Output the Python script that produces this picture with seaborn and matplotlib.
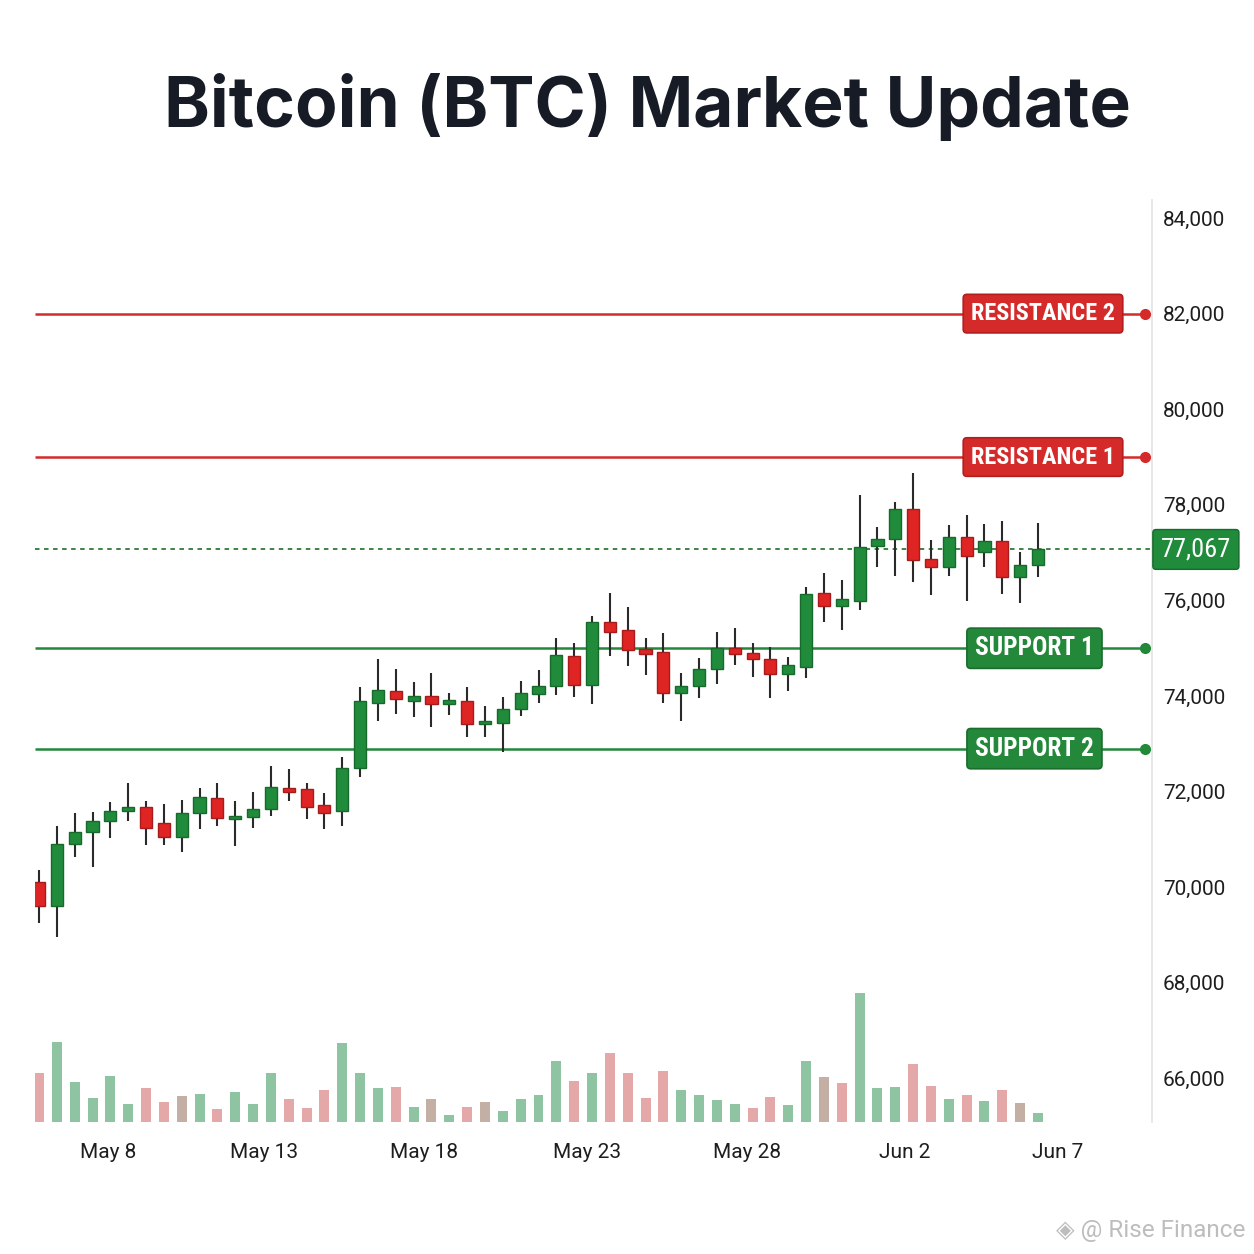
import pandas as pd
import matplotlib.pyplot as plt
import seaborn as sns

# 57 candles
opens = [70115, 69607, 70898, 71149, 71392, 71588, 71672, 71337, 71051, 71546,
         71873, 71438, 71475, 71636, 72069, 72048, 71714, 71588, 72488, 73847,
         74111, 73902, 74000, 73833, 73902, 73414, 73429, 73728, 74048, 74209,
         74843, 74230, 75548, 75381, 74990, 74927, 74069, 74216, 74558, 75004,
         74906, 74781, 74467, 74613, 76149, 75883, 75988, 77145, 77285, 77919,
         76860, 76705, 77333, 77006, 77249, 76496, 76734]
highs = [70360, 71287, 71559, 71580, 71776, 72174, 71810, 71741, 71825, 72069,
         72187, 71810, 71986, 72536, 72479, 72187, 71965, 72730, 74195, 74768,
         74565, 74299, 74488, 74069, 74195, 73797, 73986, 74314, 74544, 75220,
         75115, 75674, 76149, 75856, 75207, 75312, 74488, 74802, 75333, 75423,
         75103, 75019, 74822, 76287, 76580, 76427, 78205, 77542, 78065, 78659,
         77264, 77578, 77787, 77598, 77668, 77006, 77626]
lows = [69258, 68965, 70626, 70417, 71023, 71385, 70877, 70883, 70730, 71212,
        71287, 70869, 71245, 71490, 71810, 71427, 71212, 71287, 72299, 73477,
        73617, 73567, 73345, 73603, 73149, 73149, 72835, 73589, 73847, 74021,
        73986, 73833, 74843, 74628, 74440, 73847, 73477, 73952, 74245, 74649,
        74391, 73965, 74111, 74370, 75555, 75381, 75799, 76693, 76517, 76391,
        76107, 76511, 75994, 76705, 76134, 75952, 76483]
closes = [69607, 70898, 71149, 71392, 71588, 71684, 71239, 71057, 71559, 71881,
          71442, 71490, 71643, 72103, 71986, 71684, 71546, 72488, 73902, 74119,
          73937, 74000, 73833, 73910, 73414, 73484, 73735, 74063, 74216, 74852,
          74230, 75548, 75345, 74963, 74885, 74069, 74216, 74565, 75004, 74885,
          74781, 74467, 74642, 76140, 75883, 76023, 77124, 77285, 77919, 76845,
          76705, 77333, 76929, 77249, 76496, 76741, 77067]
volumes = [49.3, 80.0, 39.7, 23.7, 45.7, 18.3, 34.3, 20.0, 25.7, 28.3,
           12.7, 29.7, 18.0, 48.7, 23.0, 13.7, 31.7, 79.3, 49.0, 34.3,
           35.0, 15.3, 22.7, 7.0, 15.3, 20.3, 11.0, 23.0, 26.7, 60.7,
           40.7, 48.7, 69.0, 48.7, 24.3, 50.7, 31.7, 26.7, 22.0, 18.0,
           13.7, 25.3, 16.7, 60.7, 44.7, 39.0, 129.0, 34.3, 34.7, 57.7,
           36.0, 22.7, 27.0, 20.7, 32.0, 18.7, 8.7]
vol_side = ['down', 'up', 'up', 'up', 'up', 'up', 'down', 'down', 'flat', 'up',
            'down', 'up', 'up', 'up', 'down', 'down', 'down', 'up', 'up', 'up',
            'down', 'up', 'flat', 'up', 'down', 'flat', 'up', 'up', 'up', 'up',
            'down', 'up', 'down', 'down', 'down', 'down', 'up', 'up', 'up', 'up',
            'down', 'down', 'up', 'up', 'flat', 'down', 'up', 'up', 'up', 'down',
            'down', 'up', 'down', 'up', 'down', 'flat', 'up']

date_labels = ['May 8', 'May 13', 'May 18', 'May 23', 'May 28', 'Jun 2', 'Jun 7']
date_ticks = [3.9, 12.6, 21.6, 30.7, 39.7, 48.5, 57.1]

levels = {'RESISTANCE 2': 82000, 'RESISTANCE 1': 79000,
          'SUPPORT 1': 75000, 'SUPPORT 2': 72900}
last_price = closes[-1]

GREEN = '#1f8b3b'
GREEN_EDGE = '#17692c'
RED = '#df2424'
RED_EDGE = '#a81b1b'

df = pd.DataFrame({'open': opens, 'high': highs, 'low': lows, 'close': closes,
                   'volume': volumes, 'side': vol_side})
df['idx'] = range(len(df))
df['up'] = df['close'] >= df['open']

sns.set_theme(style='white')
plt.rcParams['font.family'] = ['Roboto', 'DejaVu Sans']

fig = plt.figure(figsize=(12.54, 12.54), dpi=100)
ax = fig.add_axes([35 / 1254, 1 - 1122 / 1254, 1117 / 1254, 922 / 1254])

# volume underneath
ax_vol = ax.twinx()
sns.barplot(data=df, x='idx', y='volume', hue='side', native_scale=True,
            palette={'up': '#80ca9c', 'down': '#ee9898', 'flat': '#c6a998'},
            dodge=False, width=0.56, errorbar=None, legend=False,
            edgecolor='none', alpha=0.95, ax=ax_vol)
ax_vol.set_ylim(0, max(volumes) * 7.15)
ax_vol.set_yticks([])
ax_vol.set_ylabel('')
for s in ax_vol.spines.values():
    s.set_visible(False)

# candles
ax.vlines(df['idx'], df['low'], df['high'], color='#2a2a2a', lw=1.5, zorder=3)
body_low = df[['open', 'close']].min(axis=1)
body_h = (df['close'] - df['open']).abs().clip(lower=45)
ax.bar(df['idx'], body_h, bottom=body_low, width=0.68,
       color=[GREEN if u else RED for u in df['up']],
       edgecolor=[GREEN_EDGE if u else RED_EDGE for u in df['up']],
       linewidth=1.0, zorder=4)

x0, x1 = -0.224, 62.39
x_dot = 62.0
ax.set_xlim(x0, x1)
ax.set_ylim(65090, 84377)

label_font = ['Liberation Sans Narrow', 'Roboto Condensed', 'Roboto', 'DejaVu Sans']
for name, lvl in levels.items():
    is_res = name.startswith('RES')
    col = '#d42a2a' if is_res else '#23883a'
    edge = '#b21e1e' if is_res else '#1a6d2d'
    ax.hlines(lvl, x0, x_dot, colors=col, lw=1.8, zorder=2)
    ax.plot([x_dot], [lvl], 'o', color=col, ms=7, zorder=5, clip_on=False)
    xc = 56.28 if is_res else 55.8
    ax.text(xc, lvl, name, ha='center', va='center', color='white',
            fontsize=17.5 if is_res else 18.3, fontweight='bold',
            family=label_font, zorder=6,
            bbox=dict(boxstyle='round,pad=0.32,rounding_size=0.15', fc=col,
                      ec=edge, lw=1.2))

# last price line + tag
ax.hlines(last_price, x0, x1, colors='#2f7a35', lw=1.3,
          linestyles=(0, (2.5, 2.5)), zorder=2)
ax.text(64.85, last_price, f'{last_price:,}', ha='center', va='center',
        color='white', fontsize=19, family=label_font, zorder=6, clip_on=False,
        bbox=dict(boxstyle='round,pad=0.3,rounding_size=0.12', fc=GREEN,
                  ec=GREEN_EDGE, lw=1.0))

# axes styling
ax.yaxis.tick_right()
ax.set_yticks(range(66000, 84001, 2000))
ax.set_yticklabels([f'{v:,}' for v in range(66000, 84001, 2000)])
ax.set_xticks(date_ticks)
ax.set_xticklabels(date_labels)
ax.tick_params(axis='both', length=0, labelsize=15, labelcolor='#1e1e1e')
ax.tick_params(axis='y', pad=8)
ax.tick_params(axis='x', pad=15)
for k, s in ax.spines.items():
    s.set_visible(k == 'right')
ax.spines['right'].set_color('#e3e3e3')
ax.spines['right'].set_linewidth(1.2)
ax.set_xlabel('')
ax.set_ylabel('')
ax.grid(False)
ax.set_zorder(ax_vol.get_zorder() + 1)
ax.patch.set_visible(False)

fig.text(0.516, 1 - 107 / 1254, 'Bitcoin (BTC) Market Update', ha='center',
         va='center', fontsize=50, fontweight='bold', color='#161b26',
         family=['Inter', 'Roboto', 'DejaVu Sans'])

fig.text(1 - 9 / 1254, 1 - 1230 / 1254, '\u25c8 @ Rise Finance', ha='right',
         va='center', fontsize=17.5, color='#bdbdbd',
         family=['Roboto', 'DejaVu Sans'])

fig.savefig('out.png', dpi=100, facecolor='white')
